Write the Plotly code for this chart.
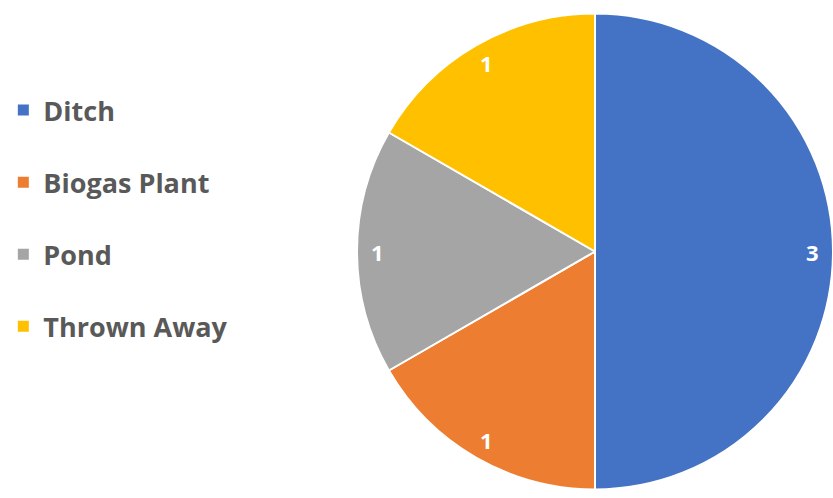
import math
import plotly.graph_objects as go

# Disposal method counts
categories = ["Ditch", "Biogas Plant", "Pond", "Thrown Away"]
counts = [3, 1, 1, 1]
colors = ["#4472C4", "#ED7D31", "#A5A5A5", "#FFC000"]

W, H = 833, 498
dom_x = [357 / W, 1.0]
dom_y = [4 / H, 489 / H]

fig = go.Figure()

fig.add_trace(go.Pie(
    labels=categories,
    values=counts,
    sort=False,
    direction="clockwise",
    rotation=0,
    marker=dict(colors=colors, line=dict(color="white", width=2)),
    textinfo="none",
    hoverinfo="label+value",
    showlegend=False,
    domain=dict(x=dom_x, y=dom_y),
))

# Legend entries, one group each so they can be spaced apart
for name, col in zip(categories, colors):
    fig.add_trace(go.Scatter(
        x=[None], y=[None], mode="markers", name=name, legendgroup=name,
        marker=dict(symbol="square", size=11, color=col),
        hoverinfo="skip",
    ))

# Value labels placed near the rim at each slice's mid-angle
cx = (dom_x[0] + dom_x[1]) / 2 * W
cy = (1 - (dom_y[0] + dom_y[1]) / 2) * H
R = min((dom_x[1] - dom_x[0]) * W, (dom_y[1] - dom_y[0]) * H) / 2
total = sum(counts)
acc = 0
for v in counts:
    mid = (acc + v / 2) / total * 2 * math.pi
    acc += v
    px = cx + 0.915 * R * math.sin(mid)
    py = cy - 0.915 * R * math.cos(mid)
    fig.add_annotation(
        x=px / W, y=1 - py / H, xref="paper", yref="paper",
        xanchor="center", yanchor="middle",
        text=str(v), showarrow=False,
        font=dict(family="Open Sans", size=22, color="white", weight="bold"),
    )

fig.update_layout(
    width=W, height=H,
    margin=dict(l=0, r=0, t=0, b=0),
    paper_bgcolor="white", plot_bgcolor="white",
    xaxis=dict(visible=False), yaxis=dict(visible=False),
    legend=dict(
        x=0.004, y=1 - 86 / H, xanchor="left", yanchor="top",
        font=dict(family="Open Sans", size=27, color="#595959", weight="bold"),
        tracegroupgap=34,
        itemclick=False, itemdoubleclick=False,
    ),
    showlegend=True,
)

fig.write_html("out.html")
